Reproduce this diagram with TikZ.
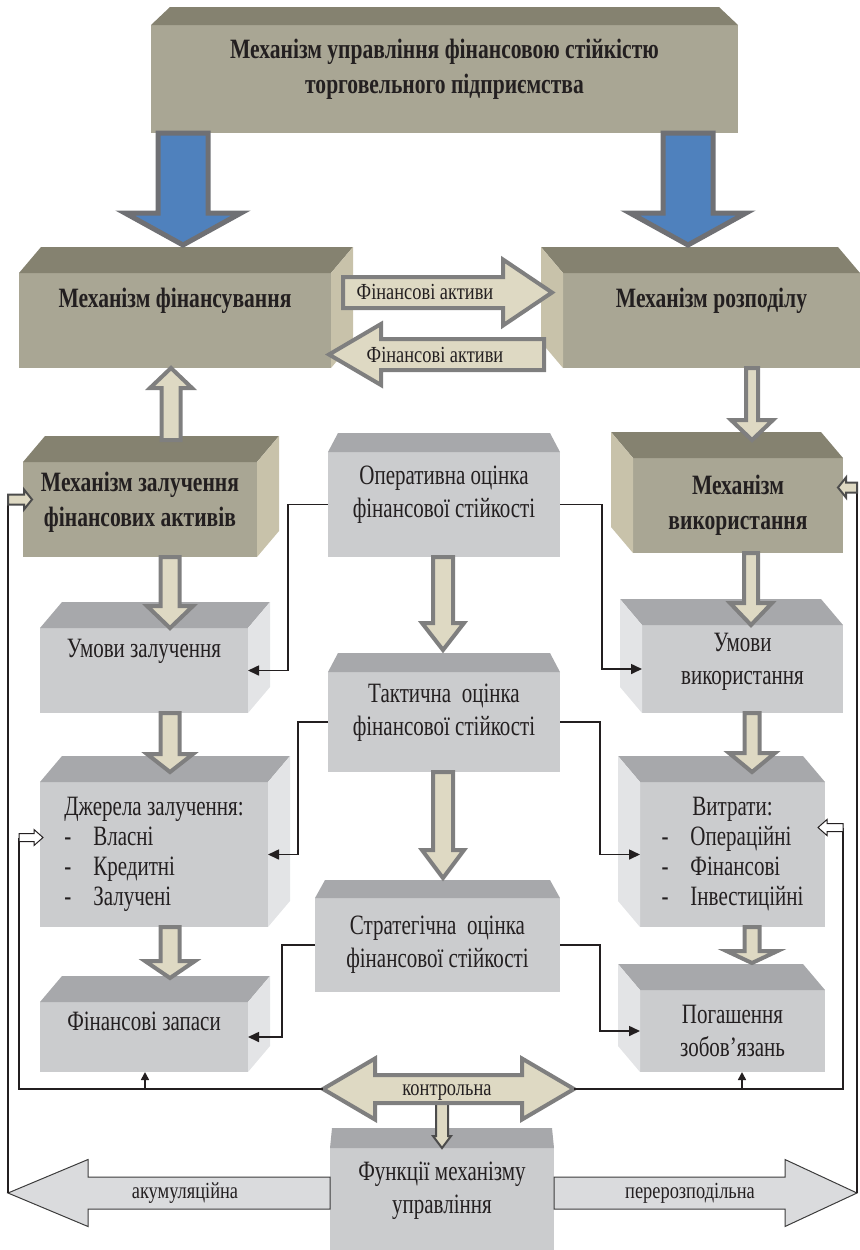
\documentclass[tikz,border=0pt]{standalone}
\usepackage{fontspec}
\setmainfont{Liberation Serif}[FakeStretch=0.75,BoldFeatures={FakeStretch=0.77}]
\newfontfamily\lblface{Liberation Serif}[FakeStretch=0.8]
\usepackage{tikz}
\usetikzlibrary{calc,arrows.meta}
\definecolor{ink}{HTML}{231F20}
\definecolor{khFront}{HTML}{A9A694}
\definecolor{khTop}{HTML}{858270}
\definecolor{khSide}{HTML}{C8C2AA}
\definecolor{grFront}{HTML}{CBCCCE}
\definecolor{grTop}{HTML}{A7A8AB}
\definecolor{grSide}{HTML}{E3E4E6}
\definecolor{blueFill}{HTML}{4F81BD}
\definecolor{blueEdge}{HTML}{6F7074}
\definecolor{arrFill}{HTML}{DED9C3}
\definecolor{arrEdge}{HTML}{7F7F7F}
\definecolor{bigFill}{HTML}{DADBDD}
\definecolor{bigEdge}{HTML}{3C3C3C}

\newcommand\boxfont{\fontsize{14}{16.5}\selectfont}
\newcommand\headfont{\fontsize{14}{17.5}\selectfont\bfseries}
\newcommand\lblfont{\lblface\fontsize{11.5}{13}\selectfont}

% block arrow: [style]{tail}{tip}{half shaft}{half head}{head length}
\newcommand\blockarrow[6][]{%
  \coordinate (ba-t) at (#2);
  \coordinate (ba-p) at (#3);
  \coordinate (ba-b) at ($(ba-p)!#6!(ba-t)$);
  \draw[#1] ($(ba-t)!#4!90:(ba-p)$) -- ($(ba-b)!#4!90:(ba-p)$) -- ($(ba-b)!#5!90:(ba-p)$) -- (ba-p)
    -- ($(ba-b)!#5!-90:(ba-p)$) -- ($(ba-b)!#4!-90:(ba-p)$) -- ($(ba-t)!#4!-90:(ba-p)$) -- cycle;}
% double block arrow: [style]{left tip}{right tip}{half shaft}{half head}{head length}
\newcommand\dblarrow[6][]{%
  \coordinate (da-l) at (#2);
  \coordinate (da-r) at (#3);
  \coordinate (da-a) at ($(da-l)!#6!(da-r)$);
  \coordinate (da-b) at ($(da-r)!#6!(da-l)$);
  \draw[#1] (da-l) -- ($(da-a)!#5!90:(da-r)$) -- ($(da-a)!#4!90:(da-r)$) -- ($(da-b)!#4!-90:(da-l)$)
    -- ($(da-b)!#5!-90:(da-l)$) -- (da-r) -- ($(da-b)!#5!90:(da-l)$) -- ($(da-b)!#4!90:(da-l)$)
    -- ($(da-a)!#4!-90:(da-r)$) -- ($(da-a)!#5!-90:(da-r)$) -- cycle;}

\begin{document}
\begin{tikzpicture}[x=0.5pt,y=-0.5pt,
  frontface/.style={inner sep=0,outer sep=0,anchor=north west,align=center,text=ink},
  kbox/.style={frontface,fill=khFront,font=\headfont},
  gbox/.style={frontface,fill=grFront,font=\boxfont},
  lift/.style={text depth=#1},
  blk/.style={fill=arrFill,draw=arrEdge,line width=2pt},
  bluearr/.style={fill=blueFill,draw=blueEdge,line width=2.5pt},
  big/.style={fill=bigFill,draw=bigEdge,line width=0.5pt},
  mini/.style={fill=arrFill,draw=arrEdge!60!black,line width=1pt},
  hollow/.style={fill=white,draw=ink,line width=0.5pt},
  lbl/.style={font=\lblfont,text=ink,inner sep=0},
  con/.style={draw=ink,line width=0.8pt,-{Triangle[length=5.5pt,width=5pt]}},
  fb/.style={draw=ink,line width=0.6pt}]
\useasboundingbox (0,0) rectangle (860,1250);

% front faces
\node[kbox,lift=13pt,minimum width=293.5pt,minimum height=54pt] (title) at (151,25)
  {Механізм управління фінансовою стійкістю\\торговельного підприємства};
\node[kbox,lift=23pt,minimum width=156pt,minimum height=47.5pt] (fin) at (19,273) {Механізм фінансування};
\node[kbox,lift=23pt,minimum width=148.5pt,minimum height=47.5pt] (rozp) at (563,273) {Механізм розподілу};
\node[kbox,lift=10pt,minimum width=117pt,minimum height=47.5pt] (zal) at (23,462) {Механізм залучення\\фінансових активів};
\node[kbox,minimum width=105pt,minimum height=47.5pt] (vyk) at (633,458) {Механізм\\використання};
\node[gbox,lift=13pt,minimum width=116pt,minimum height=52.5pt] (oper) at (328,452) {Оперативна оцінка\\фінансової стійкості};
\node[gbox,lift=22pt,minimum width=104pt,minimum height=42.5pt] (umz) at (40,628) {Умови залучення};
\node[gbox,lift=10pt,minimum width=100.5pt,minimum height=44pt] (umv) at (642,625) {Умови\\використання};
\node[gbox,lift=12pt,minimum width=116pt,minimum height=50pt] (takt) at (328,672) {Тактична\ \ оцінка\\фінансової стійкості};
\node[gbox,minimum width=114pt,minimum height=72.5pt] (dzh) at (40,782)
  {\fontsize{14}{15}\selectfont\begin{tabular}{@{}l@{\hspace{11pt}}l@{}}\multicolumn{2}{@{}c@{}}{Джерела залучення:}\\-&Власні\\-&Кредитні\\-&Залучені\end{tabular}};
\node[gbox,minimum width=92.5pt,minimum height=72.5pt] (vyt) at (640,782)
  {\fontsize{14}{15}\selectfont\begin{tabular}{@{}l@{\hspace{11pt}}l@{}}\multicolumn{2}{@{}c@{}}{Витрати:}\\-&Операційні\\-&Фінансові\\-&Інвестиційні\end{tabular}};
\node[gbox,minimum width=122.5pt,minimum height=47pt] (strat) at (315,898) {Стратегічна\ \ оцінка\\фінансової стійкості};
\node[gbox,lift=16pt,minimum width=104pt,minimum height=35pt] (zap) at (40,1002) {Фінансові запаси};
\node[gbox,minimum width=92.5pt,minimum height=41pt] (pog) at (640,990) {Погашення\\зобов’язань};
\node[gbox,lift=11pt,minimum width=112pt,minimum height=51pt] (func) at (330,1148) {Функції механізму\\управління};

% top and side faces
\foreach \b/\t/\s in {fin/khTop/khSide,zal/khTop/khSide,umz/grTop/grSide,dzh/grTop/grSide,zap/grTop/grSide}{
  \fill[\t] (\b.north west) -- ++(22,-26) -- ($(\b.north east)+(22,-26)$) -- (\b.north east) -- cycle;
  \fill[\s] (\b.north east) -- ++(22,-26) -- ($(\b.south east)+(22,-26)$) -- (\b.south east) -- cycle;}
\foreach \b/\t/\s in {rozp/khTop/khSide,vyk/khTop/khSide,umv/grTop/grSide,vyt/grTop/grSide,pog/grTop/grSide}{
  \fill[\t] (\b.north east) -- ++(-22,-26) -- ($(\b.north west)+(-22,-26)$) -- (\b.north west) -- cycle;
  \fill[\s] (\b.north west) -- ++(-22,-26) -- ($(\b.south west)+(-22,-26)$) -- (\b.south west) -- cycle;}
\foreach \b/\t/\i/\h in {title/khTop/19/18,oper/grTop/10/19,takt/grTop/10/19,strat/grTop/10/18,func/grTop/2/20}{
  \fill[\t] (\b.north west) -- ++(\i,-\h) -- ($(\b.north east)+(-\i,-\h)$) -- (\b.north east) -- cycle;}

% block arrows
\blockarrow[bluearr]{183,0 |- title.south}{$(183,0 |- fin.north)+(0,-28)$}{12.5pt}{29pt}{16pt}
\blockarrow[bluearr]{688,0 |- title.south}{$(688,0 |- rozp.north)+(0,-28)$}{12.5pt}{29pt}{16pt}
\blockarrow[blk]{$(fin.east)+(12,-28)$}{$(rozp.west)+(-11,-28)$}{7.75pt}{16.5pt}{24.5pt}
\blockarrow[blk]{$(rozp.west)+(-19,34)$}{$(fin.east)+(-2,34)$}{7.75pt}{15.25pt}{26pt}
\blockarrow[blk]{$(171,0 |- zal.north)+(0,-22)$}{171,0 |- fin.south}{4.75pt}{10.5pt}{10pt}
\blockarrow[blk]{170,0 |- zal.south}{170,0 |- umz.north}{4.75pt}{11.5pt}{11pt}
\blockarrow[blk]{170,0 |- umz.south}{$(170,0 |- dzh.north)+(0,-10)$}{4.75pt}{11.5pt}{9pt}
\blockarrow[blk]{170,0 |- dzh.south}{$(170,0 |- zap.north)+(0,-24)$}{4.75pt}{12.5pt}{8.5pt}
\blockarrow[blk]{752,0 |- rozp.south}{$(752,0 |- vyk.north)+(0,-18)$}{3pt}{10.5pt}{10pt}
\blockarrow[blk]{751,0 |- vyk.south}{751,0 |- umv.north}{3.5pt}{10.5pt}{11pt}
\blockarrow[blk]{752,0 |- umv.south}{$(752,0 |- vyt.north)+(0,-10)$}{3.75pt}{11.5pt}{9.5pt}
\blockarrow[blk]{752,0 |- vyt.south}{$(752,0 |- pog.north)+(0,-27)$}{3.75pt}{12.75pt}{6pt}
\blockarrow[blk]{443,0 |- oper.south}{$(443,0 |- takt.north)+(0,-22)$}{5pt}{10.5pt}{13.5pt}
\blockarrow[blk]{443,0 |- takt.south}{$(443,0 |- strat.north)+(0,-20)$}{5pt}{10.5pt}{14pt}
\node[lbl] (assetR) at (425,292) {Фінансові активи};
\node[lbl] (assetL) at (435,355) {Фінансові активи};

% assessment links
\draw[con] (oper.west) -- ++(-40,0) |- (umz.east);
\draw[con] (oper.east) -- ++(42,0) |- (umv.west);
\draw[con] (takt.west) -- ++(-30,0) |- (dzh.east);
\draw[con] (takt.east) -- ++(40,0) |- (vyt.west);
\draw[con] (strat.west) -- ++(-33,0) |- (zap.east);
\draw[con] (strat.east) -- ++(40,0) |- (pog.west);

% functions of the mechanism
\coordinate (accTip) at (8,1193);
\coordinate (redTip) at (857,1193);
\coordinate (ctrlL) at (323,1089);
\coordinate (ctrlR) at (574,1089);
\coordinate (zalIn) at ($(zal.west)+(9,-10)$);
\coordinate (vykIn) at ($(vyk.east)+(-5,-18)$);
\coordinate (dzhIn) at ($(dzh.west)+(3,-17)$);
\coordinate (vytIn) at ($(vyt.east)+(-7,-27)$);
\blockarrow[big]{func.west |- accTip}{accTip}{8pt}{16.75pt}{40pt}
\blockarrow[big]{func.east |- redTip}{redTip}{8pt}{16.75pt}{36pt}
\node[lbl] (accLbl) at (185,1193) {акумуляційна};
\node[lbl] (redLbl) at (690,1193) {перерозподільна};
\blockarrow[mini]{442,0 |- ctrlL}{442,0 |- func.north}{3pt}{4.5pt}{6pt}
\dblarrow[blk]{ctrlL}{ctrlR}{7pt}{15.25pt}{26pt}
\node[lbl] (ctrlLbl) at (447,1093) {контрольна};

% feedback lines
\draw[fb] (accTip) -- (accTip |- zalIn);
\draw[fb] (redTip) -- (redTip |- vykIn);
\draw[fb] (ctrlL) -| (19,0 |- dzhIn);
\draw[fb] (ctrlR) -| (843,0 |- vytIn);
\blockarrow[mini]{accTip |- zalIn}{zalIn}{2.5pt}{5pt}{4pt}
\blockarrow[mini]{redTip |- vykIn}{vykIn}{2.5pt}{5pt}{4pt}
\blockarrow[hollow]{19,0 |- dzhIn}{dzhIn}{2pt}{4pt}{4.5pt}
\blockarrow[hollow]{843,0 |- vytIn}{vytIn}{2pt}{4pt}{4.5pt}
\draw[con,-{Triangle[length=4pt,width=4pt]}] (145,0 |- ctrlL) -- (145,0 |- zap.south);
\draw[con,-{Triangle[length=4pt,width=4pt]}] (742,0 |- ctrlR) -- (742,0 |- pog.south);
\end{tikzpicture}
\end{document}
